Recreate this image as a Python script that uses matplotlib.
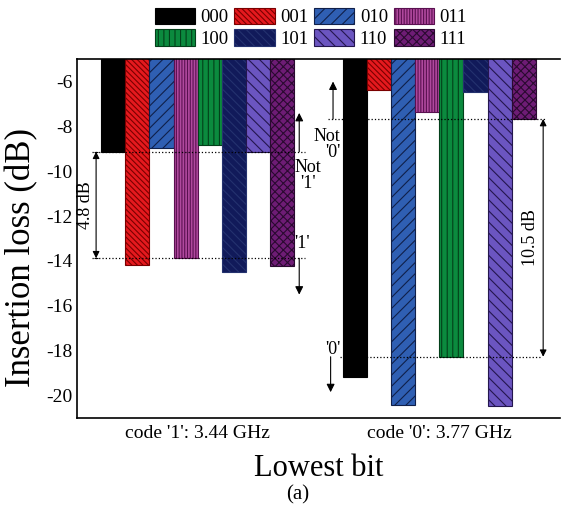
"""
Insertion loss of the 8 codes at the two lowest-bit frequencies.
"""

import numpy as np
import matplotlib
matplotlib.use("Agg")
import matplotlib.pyplot as plt
from matplotlib.patches import Patch

plt.rcParams['font.family'] = ['Liberation Serif', 'DejaVu Serif']
plt.rcParams['axes.unicode_minus'] = False
plt.rcParams['hatch.linewidth'] = 0.8

# data
codes = ['000', '001', '010', '011', '100', '101', '110', '111']
groups = ["code '1': 3.44 GHz", "code '0': 3.77 GHz"]
loss_344 = [-9.13, -14.18, -8.98, -13.88, -8.83, -14.48, -9.13, -14.21]
loss_377 = [-19.16, -6.38, -20.42, -7.35, -18.27, -6.48, -20.45, -7.67]

# styles per code
face = ['#000000', '#e5191e', '#2f5fb3', '#b0499e', '#0b8a3e', '#111a5a', '#6b55c0', '#6e1c75']
edge = ['#000000', '#7a0000', '#10204a', '#5a1050', '#03401a', '#24326e', '#24164e', '#2a0a30']
hatch = ['', '\\\\\\\\\\\\', '///', '||||||', '|||', '\\\\\\\\', '\\\\\\', 'xxxx']

fig = plt.figure(figsize=(5.63, 5.12), dpi=100)
ax = fig.add_axes([0.1368, 0.1836, 0.858, 0.701])

centers = [5, 15]
offs = np.arange(len(codes)) - 3.5
for g, vals in enumerate([loss_344, loss_377]):
    for i, v in enumerate(vals):
        ax.bar(centers[g] + offs[i], v, width=1.0, color=face[i], edgecolor=edge[i],
               hatch=hatch[i], linewidth=0.8)

ax.set_xlim(0, 20)
ax.set_ylim(-21, -5)
ax.set_yticks([-6, -8, -10, -12, -14, -16, -18, -20])
ax.set_xticks(centers)
ax.set_xticklabels(groups)
ax.tick_params(axis='both', length=0, labelsize=14, pad=3)
ax.tick_params(axis='x', pad=5)
ax.spines['right'].set_visible(False)
for s in ['left', 'top', 'bottom']:
    ax.spines[s].set_linewidth(1.2)

ax.set_ylabel('Insertion loss (dB)', fontsize=25)
ax.yaxis.set_label_coords(-0.08, 0.448)
ax.set_xlabel('Lowest bit', fontsize=22, labelpad=9)
fig.text(0.528, 0.033, '(a)', fontsize=15, ha='center', va='center')

# threshold levels
hi1 = min(v for v in loss_344 if v > -12)
lo1 = max(v for v in loss_344 if v < -12)
hi0 = min(v for v in loss_377 if v > -12)
lo0 = max(v for v in loss_377 if v < -12)

dot = dict(colors='k', linestyles=':', linewidth=0.9)
ax.hlines([hi1, lo1], 0.62, 9.44, **dot)
ax.hlines(hi0, 10.39, 19.38, **dot)
ax.hlines(lo0, 10.89, 19.17, **dot)

arr2 = dict(arrowstyle='<|-|>', color='k', lw=0.8, mutation_scale=10, shrinkA=0, shrinkB=0)
arr1 = dict(arrowstyle='-|>', color='k', lw=0.8, mutation_scale=12, shrinkA=0, shrinkB=0)

ax.annotate('', xy=(0.79, hi1), xytext=(0.79, lo1), arrowprops=arr2)
ax.hlines([hi1, lo1], 0.72, 0.86, colors='k', linewidth=0.8)
ax.text(0.35, (hi1 + lo1) / 2, '4.8 dB', rotation=90, fontsize=13, ha='center', va='center')
ax.annotate('', xy=(9.2, -7.4), xytext=(9.2, hi1), arrowprops=arr1)
ax.text(9.55, -10.2, "Not\n'1'", fontsize=13, ha='center', va='center', linespacing=0.95)
ax.text(9.0, -13.2, "'1'", fontsize=13, ha='left', va='center')
ax.annotate('', xy=(9.2, -15.5), xytext=(9.2, lo1), arrowprops=arr1)

ax.annotate('', xy=(10.6, -6.0), xytext=(10.6, hi0), arrowprops=arr1)
ax.text(10.9, -8.8, "Not\n'0'", fontsize=13, ha='right', va='center', linespacing=0.95,
        multialignment='right')
ax.text(10.9, -17.95, "'0'", fontsize=13, ha='right', va='center')
ax.annotate('', xy=(10.5, -19.85), xytext=(10.5, lo0), arrowprops=arr1)
ax.annotate('', xy=(19.3, hi0), xytext=(19.3, lo0), arrowprops=arr2)
ax.text(18.76, (hi0 + lo0) / 2, '10.5 dB', rotation=90, fontsize=13, ha='center', va='center')

# legend laid out row by row
handles = [Patch(facecolor=face[i], edgecolor=edge[i], hatch=hatch[i], linewidth=0.8, label=codes[i])
           for i in range(len(codes))]
order = [0, 4, 1, 5, 2, 6, 3, 7]
fig.legend([handles[i] for i in order], [codes[i] for i in order], ncol=4,
           loc='upper center', bbox_to_anchor=(0.552, 1.007), frameon=False, fontsize=13.5,
           handlelength=2.15, handleheight=1.0, handletextpad=0.3, columnspacing=0.3,
           labelspacing=0.15, borderpad=0.1)

fig.savefig('out.png', dpi=100)
